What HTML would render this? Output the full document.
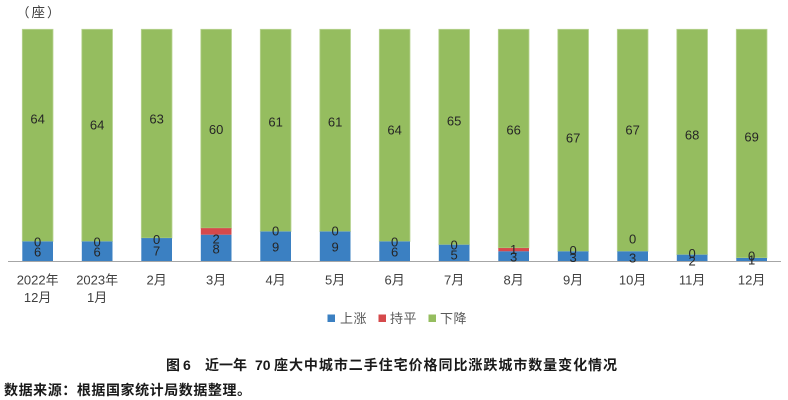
<!DOCTYPE html>
<html><head><meta charset="utf-8"><style>
html,body{margin:0;padding:0;background:#fff;}
svg{display:block;}
text{font-family:"Liberation Sans","Noto Sans CJK SC",sans-serif;}
</style></head><body>
<svg width="788" height="400" viewBox="0 0 788 400" xmlns="http://www.w3.org/2000/svg">
<rect width="788" height="400" fill="#fff"/>
<!-- unit label -->
<text x="16.5" y="17" font-size="13" fill="#404040">（</text>
<text x="31.5" y="17" font-size="13.5" fill="#404040">座</text>
<text x="47" y="17" font-size="13" fill="#404040">）</text>

<g id="bars"></g>
<line x1="8" y1="261.5" x2="781" y2="261.5" stroke="#a6a6a6" stroke-width="1"/>
<g id="labels" font-size="13" fill="#262626" text-anchor="middle"></g>
<g id="xl" font-size="13" fill="#404040" text-anchor="middle"></g>

<!-- legend -->
<rect x="327.5" y="314.5" width="7.5" height="7.5" fill="#3b80c2"/>
<text x="340" y="323" font-size="13" fill="#595959" textLength="26.5">上涨</text>
<rect x="378.5" y="314.5" width="7.5" height="7.5" fill="#d5494b"/>
<text x="390" y="323" font-size="13" fill="#595959" textLength="26.5">持平</text>
<rect x="428.5" y="314.5" width="7.5" height="7.5" fill="#95bd5f"/>
<text x="440" y="323" font-size="13" fill="#595959" textLength="26.5">下降</text>

<!-- caption -->
<g font-size="14" font-weight="bold" fill="#1a1a1a">
<text x="166" y="370">图</text>
<text x="183" y="370">6</text>
<text x="205" y="370" textLength="42">近一年</text>
<text x="255" y="370">70</text>
<text x="274" y="370" textLength="343">座大中城市二手住宅价格同比涨跌城市数量变化情况</text>
<text x="4" y="395" textLength="247">数据来源：根据国家统计局数据整理。</text>
</g>
</svg>
<script>
(function(){
var NS="http://www.w3.org/2000/svg";
var data=[[6,0,64],[6,0,64],[7,0,63],[8,2,60],[9,0,61],[9,0,61],[6,0,64],[5,0,65],[3,1,66],[3,0,67],[3,0,67],[2,0,68],[1,0,69]];
var downY=[119,125,118.7,129.3,122,122,130,121,130,137.7,130,135,137];
var flatY=[242,242,239.3,239,231,231,242,245,249.3,250.5,239,253.3,256];
var upY=[252,252,251,249,247,247,252,255,256.7,257.3,257.7,261,260];
var xl=[["2022年","12月"],["2023年","1月"],["2月"],["3月"],["4月"],["5月"],["6月"],["7月"],["8月"],["9月"],["10月"],["11月"],["12月"]];
var base=261.3,u=232/70,bw=30.7;
var bars=document.getElementById("bars"),lab=document.getElementById("labels"),xg=document.getElementById("xl");
function rect(x,y,w,h,f,s){var r=document.createElementNS(NS,"rect");r.setAttribute("x",x);r.setAttribute("y",y);r.setAttribute("width",w);r.setAttribute("height",h);r.setAttribute("fill",f);if(s){r.setAttribute("stroke",s);r.setAttribute("stroke-width","0.8");}bars.appendChild(r);}
function txt(g,x,y,t){var e=document.createElementNS(NS,"text");e.setAttribute("x",x);e.setAttribute("y",y);e.textContent=t;g.appendChild(e);}
for(var i=0;i<13;i++){
 var x=7.9+i*59.5+14.4,d=data[i];
 var hu=d[0]*u,hf=d[1]*u,hd=d[2]*u;
 var yu=base-hu,yf=yu-hf,yd=yf-hd;
 rect(x,yd,bw,hd,"#95bd5f","#b9d494");
 if(hf>0)rect(x,yf,bw,hf,"#d5494b");
 rect(x,yu,bw,hu,"#3b80c2");
 var cx=x+bw/2;
 txt(lab,cx,downY[i]+4.7,String(d[2]));
 txt(lab,cx,flatY[i]+4.7,String(d[1]));
 txt(lab,cx,upY[i]+4.7,String(d[0]));
 txt(xg,cx,284.5,xl[i][0]);
 if(xl[i][1])txt(xg,cx,302,xl[i][1]);
}
})();
</script>
</body></html>
